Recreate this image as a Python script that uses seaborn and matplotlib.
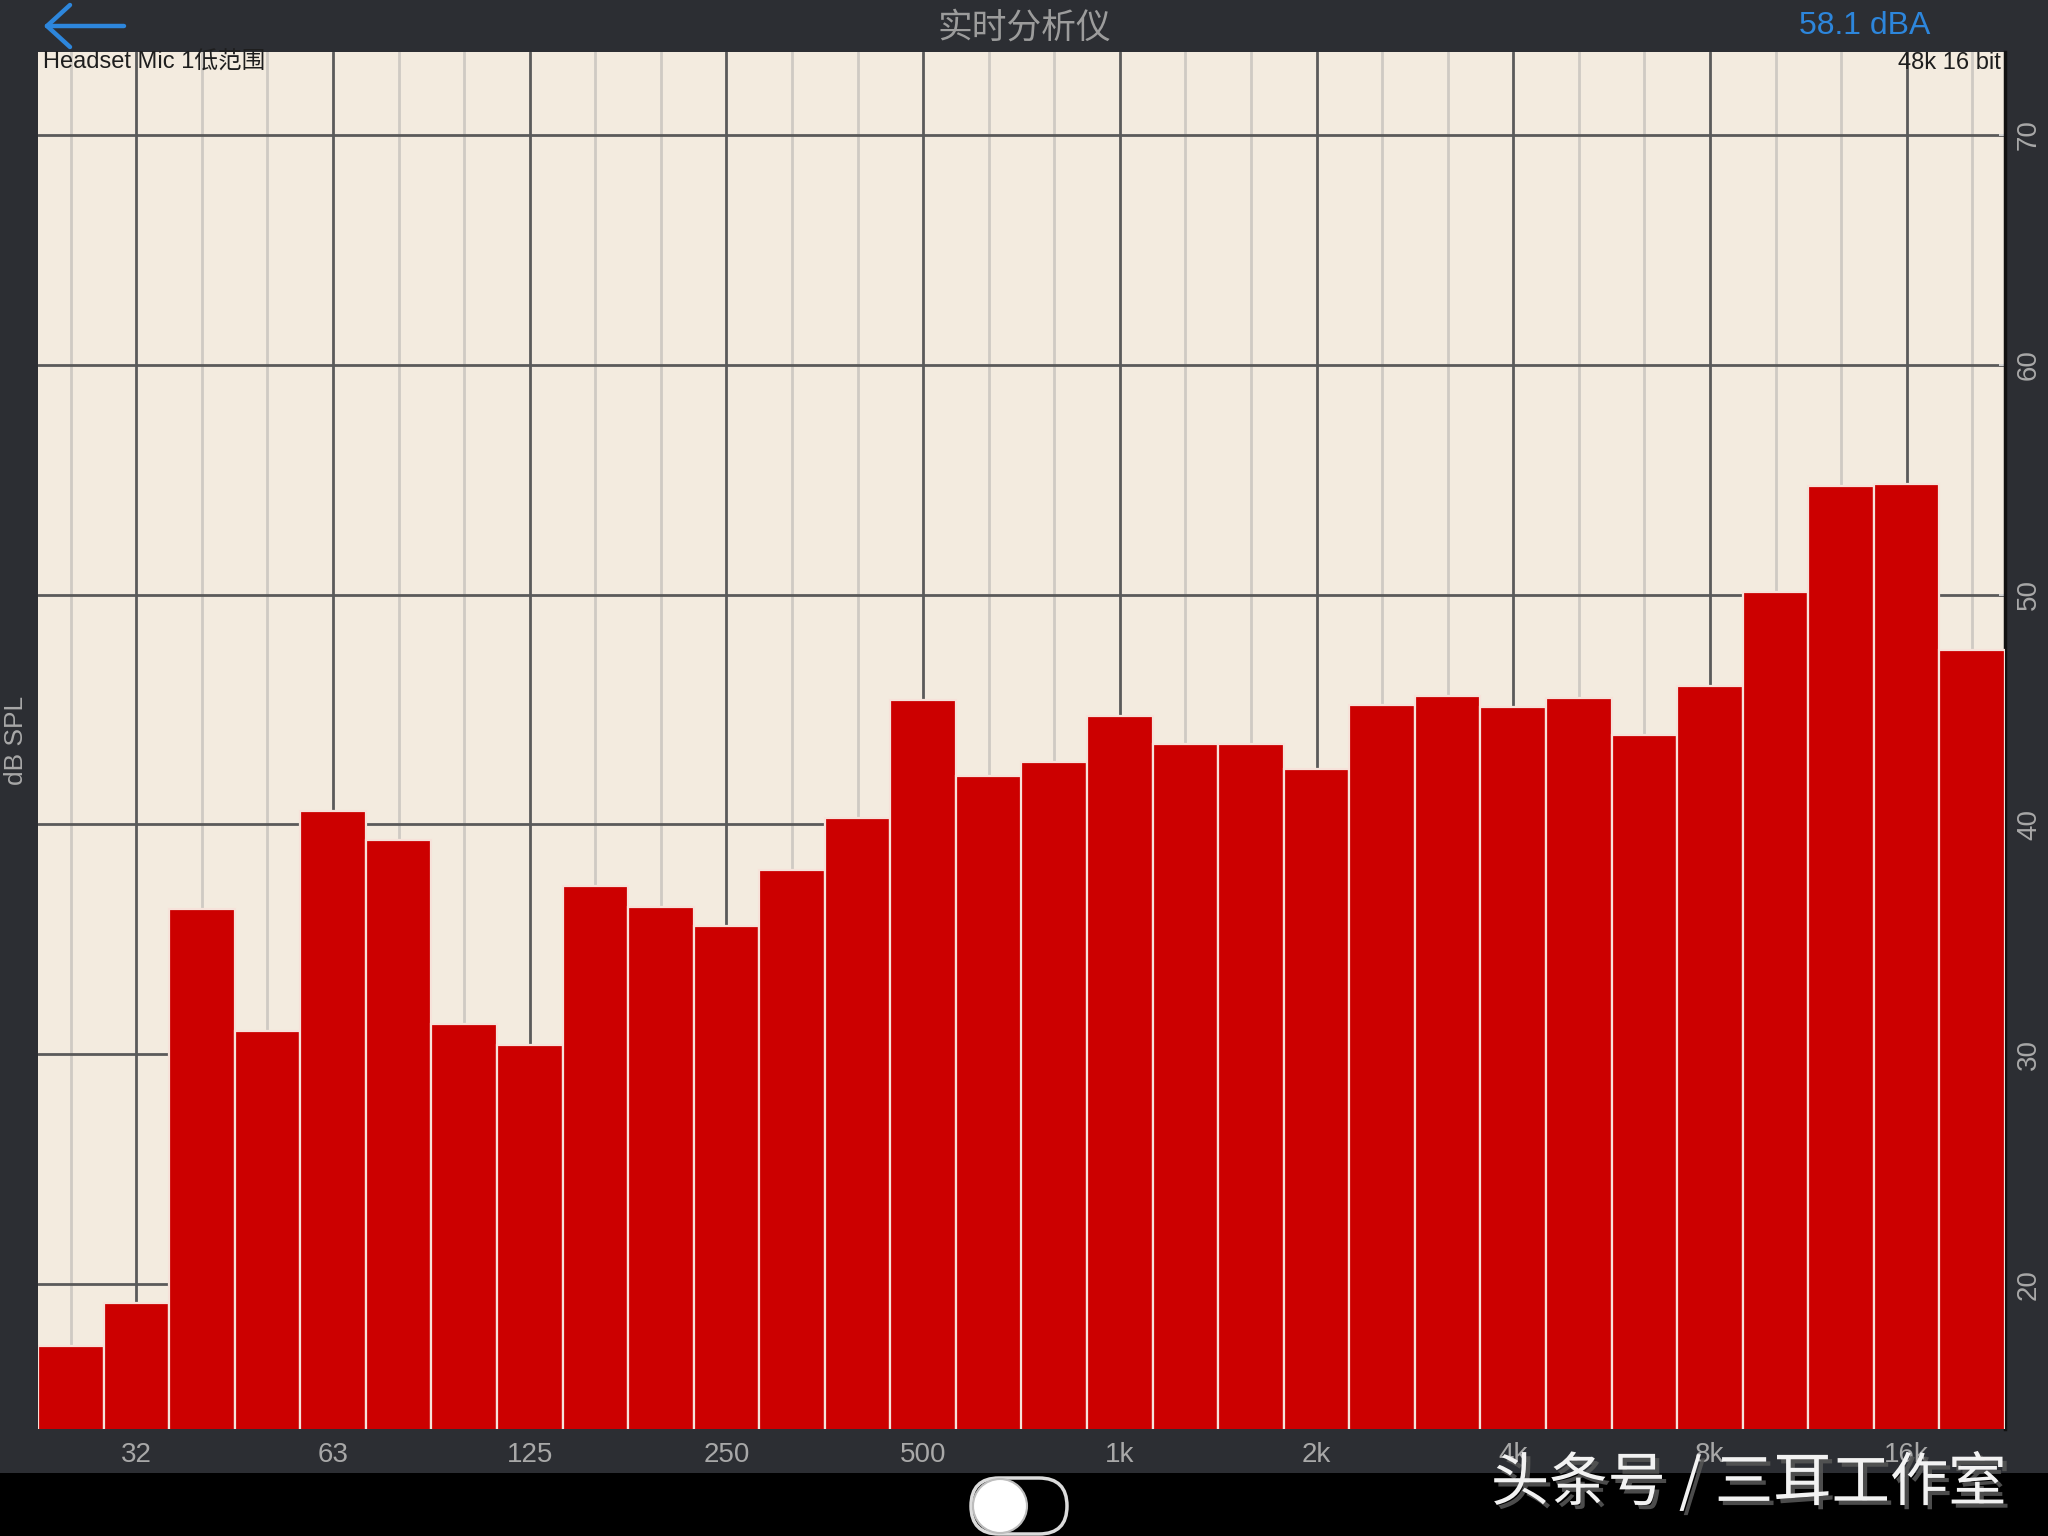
import matplotlib
matplotlib.use("Agg")
import matplotlib.pyplot as plt
import matplotlib.patheffects as pe
from matplotlib.patches import Rectangle, FancyBboxPatch, Circle
from matplotlib.lines import Line2D
import seaborn as sns

# 1/3 octave bands, 25 Hz .. 20 kHz
bands = ['25', '31.5', '40', '50', '63', '80', '100', '125', '160', '200',
         '250', '315', '400', '500', '630', '800', '1k', '1.25k', '1.6k', '2k',
         '2.5k', '3.15k', '4k', '5k', '6.3k', '8k', '10k', '12.5k', '16k', '20k']
levels = [17.3, 19.2, 36.3, 31.0, 40.6, 39.3, 31.3, 30.4, 37.3, 36.4,
          35.6, 38.0, 40.3, 45.4, 42.1, 42.7, 44.7, 43.5, 43.5, 42.4,
          45.2, 45.6, 45.1, 45.5, 43.9, 46.0, 50.1, 54.7, 54.8, 47.6]
octave_labels = ['32', '63', '125', '250', '500', '1k', '2k', '4k', '8k', '16k']
octave_bands = ['31.5', '63', '125', '250', '500', '1k', '2k', '4k', '8k', '16k']
db_ticks = [20, 30, 40, 50, 60, 70]

W, H = 2048, 1536
BG = '#2c2e33'
PAPER = '#f3ebdf'
RED = '#cc0000'

sns.set_theme(style='white')
plt.rcParams['font.family'] = ['Liberation Sans', 'Noto Sans CJK SC', 'DejaVu Sans']

fig = plt.figure(figsize=(W / 100, H / 100), dpi=100, facecolor=BG)

def fx(px):
    return px / W

def fy(py):
    return 1 - py / H

# overlay in pixel coordinates for the app chrome
ui = fig.add_axes([0, 0, 1, 1], zorder=-1)
ui.set_xlim(0, W)
ui.set_ylim(H, 0)
ui.axis('off')
ui.add_patch(Rectangle((0, 1473), W, H - 1473, facecolor='black', edgecolor='none'))

ax = fig.add_axes([fx(38), fy(1429), fx(2005) - fx(38), fy(52) - fy(1429)])
ax.set_facecolor(PAPER)

sns.barplot(x=bands, y=levels, color=RED, saturation=1, width=1.0,
            edgecolor='#f6e2da', linewidth=1.6, ax=ax, zorder=3)

ax.set_xlim(-0.5, len(bands) - 0.5)
ax.set_ylim(13.7, 73.6)

major_idx = [bands.index(b) for b in octave_bands]
minor_idx = [i for i in range(len(bands)) if i not in major_idx]
ax.set_xticks(major_idx)
ax.set_xticklabels(octave_labels)
ax.set_xticks(minor_idx, minor=True)
ax.grid(which='major', axis='x', color='#5a5a5a', linewidth=2.0, zorder=1)
ax.grid(which='minor', axis='x', color='#cfcac3', linewidth=2.0, zorder=1)
ax.set_yticks(db_ticks)
ax.grid(which='major', axis='y', color='#5a5a5a', linewidth=2.0, zorder=1)
ax.set_axisbelow(True)

ax.tick_params(axis='x', which='both', length=0, pad=9, labelsize=20, labelcolor='#a8a8a8')
ax.yaxis.tick_right()
ax.tick_params(axis='y', length=4, direction='in', color='#e8e8e8', pad=8,
               labelsize=20, labelcolor='#a8a8a8')
for lbl in ax.get_yticklabels():
    lbl.set_rotation(90)
    lbl.set_va('center')

for s in ['top', 'left', 'bottom']:
    ax.spines[s].set_visible(False)
ax.spines['right'].set_color('#111111')
ax.spines['right'].set_linewidth(2.5)

ax.set_xlabel('')
ax.set_ylabel('')
fig.text(fx(16), fy(740), 'dB SPL', rotation=90, ha='center', va='center',
         fontsize=19, color='#a8a8a8')

# labels inside the plot
fig.text(fx(43), fy(63), 'Headset Mic 1低范围', ha='left', va='center', fontsize=17,
         color='#1e1e1e')
fig.text(fx(2001), fy(63), '48k 16 bit', ha='right', va='center', fontsize=17,
         color='#1e1e1e')

# title bar
fig.text(0.5, fy(28), '实时分析仪', ha='center', va='center', fontsize=25,
         color='#9c9c9c', family=['Noto Sans CJK SC'])
fig.text(fx(1865), fy(26), '58.1 dBA', ha='center', va='center', fontsize=23,
         color='#2d86dc')

# back arrow
arrow_kw = dict(color='#2d86dc', linewidth=3.2, solid_capstyle='round')
ui.add_line(Line2D([47, 124], [26, 26], **arrow_kw))
ui.add_line(Line2D([47, 70], [26, 5], **arrow_kw))
ui.add_line(Line2D([47, 70], [26, 47], **arrow_kw))

# toggle switch
ui.add_patch(FancyBboxPatch((971, 1478), 96, 56, boxstyle='round,pad=0,rounding_size=28',
                            facecolor='black', edgecolor='#dcdcdc', linewidth=2.5))
ui.add_patch(Circle((1000, 1506), 27, facecolor='white', edgecolor='#bdbdbd', linewidth=1.5))

# watermark
fig.text(fx(2007), fy(1484), '头条号 / 三耳工作室', ha='right', va='center', fontsize=42,
         color='#f2f2f2', family=['Noto Sans CJK SC', 'DejaVu Sans'],
         path_effects=[pe.withSimplePatchShadow(offset=(3, -3), shadow_rgbFace='#555555', alpha=0.9)])

fig.savefig('out.png', dpi=100, facecolor=BG)
